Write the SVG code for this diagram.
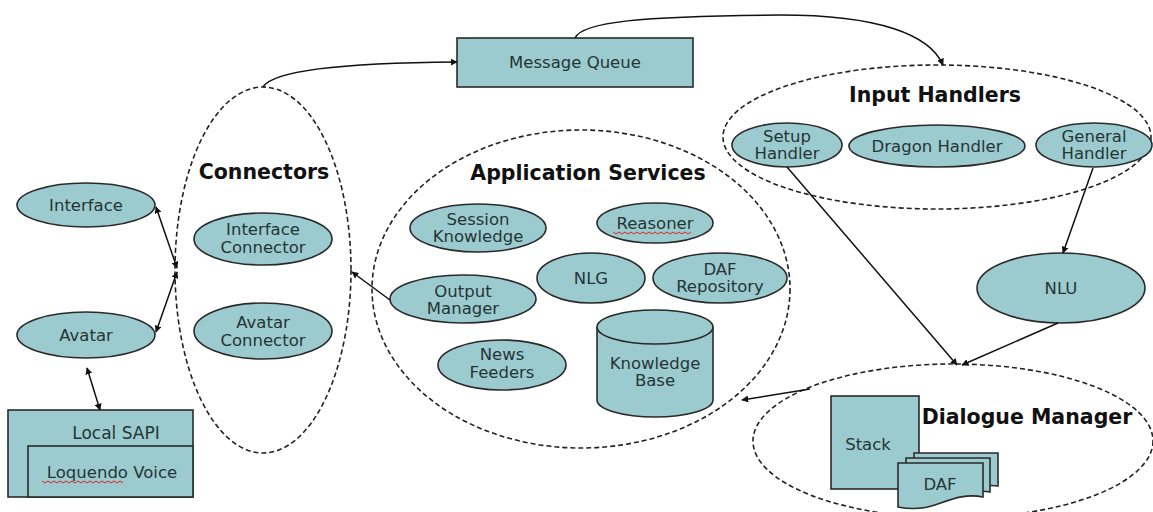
<svg xmlns="http://www.w3.org/2000/svg" width="1153" height="512" viewBox="0 0 1153 512">
<defs>
<marker id="ah" viewBox="0 0 10 10" refX="9" refY="5" markerWidth="7" markerHeight="7" markerUnits="userSpaceOnUse" orient="auto-start-reverse"><path d="M0,0 L10,5 L0,10 Z" fill="#111"/></marker>
<style>
.node{fill:#9ccbcf;stroke:#2a2a2a;stroke-width:1.6}
.grp{fill:none;stroke:#222;stroke-width:1.6;stroke-dasharray:5 3}
.t{font-family:"DejaVu Sans","Liberation Sans",sans-serif;font-size:16.5px;fill:#253535;text-anchor:middle}
.h{font-family:"DejaVu Sans","Liberation Sans",sans-serif;font-size:20.5px;font-weight:bold;fill:#111;text-anchor:middle}
.c{fill:none;stroke:#111;stroke-width:1.5}
.sq{fill:none;stroke:#d22;stroke-width:1}
</style>
</defs>
<rect width="1153" height="512" fill="#fff"/>

<g id="connectors-group"><ellipse class="grp" cx="263" cy="270" rx="88" ry="183"/><text class="h" x="264" y="179">Connectors</text></g>
<g id="app-services-group"><ellipse class="grp" cx="581" cy="289" rx="209" ry="159"/><text class="h" x="588" y="180">Application Services</text></g>
<g id="input-handlers-group"><ellipse class="grp" cx="937" cy="137" rx="214" ry="72"/><text class="h" x="935" y="102">Input Handlers</text></g>
<g id="dialogue-manager-group"><ellipse class="grp" cx="953" cy="441" rx="200" ry="77"/><text class="h" x="1027" y="424">Dialogue Manager</text></g>

<g id="interface"><ellipse class="node" cx="86" cy="205" rx="69" ry="22"/><text class="t" x="86" y="211">Interface</text></g>
<g id="avatar"><ellipse class="node" cx="86" cy="335" rx="69" ry="23"/><text class="t" x="86" y="341">Avatar</text></g>
<g id="local-sapi"><rect class="node" x="8" y="410" width="185" height="87"/><text class="t" x="116" y="439" style="font-size:17px">Local SAPI</text></g>
<g id="loquendo-voice"><rect class="node" x="28" y="446" width="165" height="51"/><text class="t" x="112" y="478">Loquendo Voice</text><path class="sq" d="M42,481 l3,2 l3,-2 l3,2 l3,-2 l3,2 l3,-2 l3,2 l3,-2 l3,2 l3,-2 l3,2 l3,-2 l3,2 l3,-2 l3,2 l3,-2 l3,2 l3,-2 l3,2 l3,-2 l3,2 l3,-2 l3,2 l3,-2 l3,2 l3,-2 l3,2"/></g>

<g id="interface-connector"><ellipse class="node" cx="263" cy="239" rx="69" ry="26"/><text class="t" x="263" y="235">Interface</text><text class="t" x="263" y="253">Connector</text></g>
<g id="avatar-connector"><ellipse class="node" cx="263" cy="331" rx="69" ry="28"/><text class="t" x="263" y="328">Avatar</text><text class="t" x="263" y="346">Connector</text></g>

<g id="message-queue"><rect class="node" x="457" y="38" width="236" height="49"/><text class="t" x="575" y="68">Message Queue</text></g>

<g id="session-knowledge"><ellipse class="node" cx="478" cy="228" rx="68" ry="24"/><text class="t" x="478" y="225">Session</text><text class="t" x="478" y="242">Knowledge</text></g>
<g id="reasoner"><ellipse class="node" cx="655" cy="223" rx="58" ry="20"/><text class="t" x="655" y="229">Reasoner</text><path class="sq" d="M613,232 l3,2 l3,-2 l3,2 l3,-2 l3,2 l3,-2 l3,2 l3,-2 l3,2 l3,-2 l3,2 l3,-2 l3,2 l3,-2 l3,2 l3,-2 l3,2 l3,-2 l3,2 l3,-2 l3,2 l3,-2 l3,2 l3,-2 l3,2 l3,-2"/></g>
<g id="nlg"><ellipse class="node" cx="591" cy="278" rx="54" ry="25"/><text class="t" x="591" y="284">NLG</text></g>
<g id="daf-repository"><ellipse class="node" cx="720" cy="278" rx="67" ry="25"/><text class="t" x="720" y="275">DAF</text><text class="t" x="720" y="292">Repository</text></g>
<g id="output-manager"><ellipse class="node" cx="463" cy="299" rx="73" ry="24"/><text class="t" x="463" y="297">Output</text><text class="t" x="463" y="314">Manager</text></g>
<g id="news-feeders"><ellipse class="node" cx="502" cy="365" rx="64" ry="25"/><text class="t" x="502" y="360">News</text><text class="t" x="502" y="378">Feeders</text></g>
<g id="knowledge-base"><path class="node" d="M597,327 V400 A58,17 0 0 0 713,400 V327"/><ellipse class="node" cx="655" cy="327" rx="58" ry="17"/><text class="t" x="655" y="369">Knowledge</text><text class="t" x="655" y="386">Base</text></g>

<g id="setup-handler"><ellipse class="node" cx="787" cy="145" rx="55" ry="22"/><text class="t" x="787" y="142">Setup</text><text class="t" x="787" y="159">Handler</text></g>
<g id="dragon-handler"><ellipse class="node" cx="937" cy="146" rx="88" ry="21"/><text class="t" x="937" y="152">Dragon Handler</text></g>
<g id="general-handler"><ellipse class="node" cx="1094" cy="145" rx="58" ry="22"/><text class="t" x="1094" y="142">General</text><text class="t" x="1094" y="159">Handler</text></g>
<g id="nlu"><ellipse class="node" cx="1061" cy="288" rx="84" ry="35"/><text class="t" x="1061" y="294">NLU</text></g>

<g id="stack"><rect class="node" x="831" y="396" width="88" height="93"/><text class="t" x="868" y="450">Stack</text></g>
<g id="daf">
<path class="node" d="M914,453 H998 V486 C985,484 975,488 966,492 L914,492 Z"/>
<path class="node" d="M906,458 H990 V492 C975,489 962,495 950,499 L906,499 Z"/>
<path class="node" d="M898,463 H983 V497 C965,493 950,500 935,505 C920,510 908,509 898,507 Z"/>
<text class="t" x="940" y="490">DAF</text></g>

<g id="edges">
<path class="c" d="M156,207 L177,268" marker-start="url(#ah)" marker-end="url(#ah)"/>
<path class="c" d="M156,332 L177,272" marker-start="url(#ah)" marker-end="url(#ah)"/>
<path class="c" d="M87,368 L100,410" marker-start="url(#ah)" marker-end="url(#ah)"/>
<path class="c" d="M390,300 L352,272" marker-end="url(#ah)"/>
<path class="c" d="M263,87 C272,72 330,63 457,62" marker-end="url(#ah)"/>
<path class="c" d="M575,38 C582,22 640,16 780,15 C880,15 930,35 943,65" marker-end="url(#ah)"/>
<path class="c" d="M1093,168 L1063,253" marker-end="url(#ah)"/>
<path class="c" d="M787,167 L957,365" marker-end="url(#ah)"/>
<path class="c" d="M1058,323 L962,365" marker-end="url(#ah)"/>
<path class="c" d="M810,389 L742,400" marker-end="url(#ah)"/>
</g>
</svg>
